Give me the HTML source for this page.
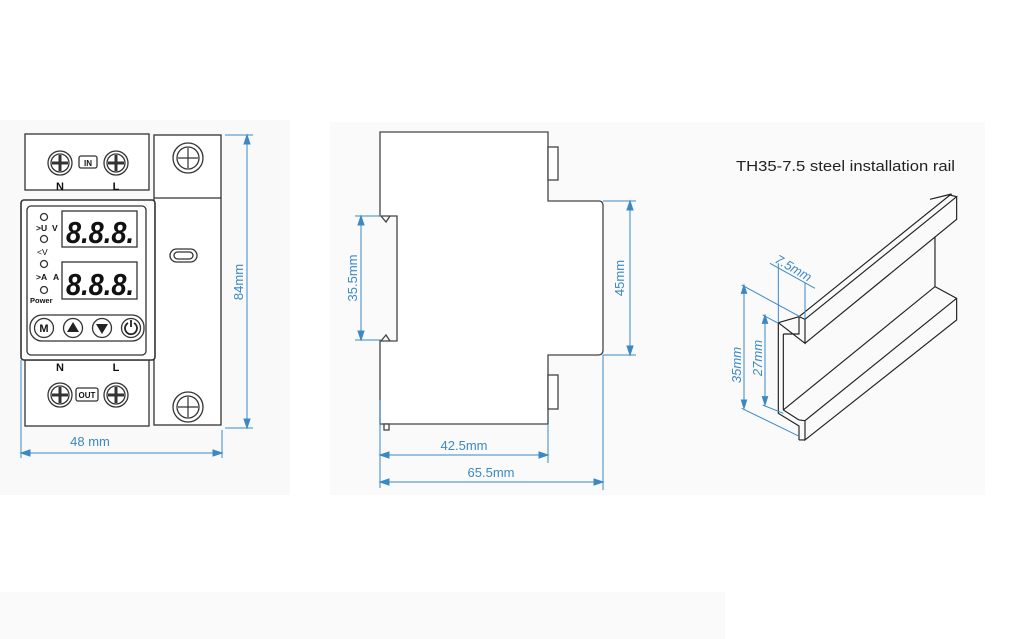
<!DOCTYPE html>
<html><head><meta charset="utf-8"><style>
html,body{margin:0;padding:0;background:#fff;}
svg{display:block;font-family:"Liberation Sans",sans-serif;}
</style></head><body>
<svg width="1035" height="639" viewBox="0 0 1035 639" xmlns="http://www.w3.org/2000/svg">
<rect x="0" y="120" width="290" height="375" fill="#f9f9f9"/>
<rect x="330" y="122" width="655" height="373" fill="#fafafa"/>
<rect x="0" y="592" width="725" height="47" fill="#fafafa"/>

<!-- FRONT VIEW -->
<g stroke="#333" stroke-width="1.3" fill="#fff">
<rect x="25" y="134" width="124" height="56"/>
<rect x="25" y="360" width="124" height="66"/>
<rect x="154" y="135" width="67" height="290"/>
<line x1="154" y1="198" x2="221" y2="198"/>
<rect x="21" y="200" width="134" height="160" rx="3" stroke-width="1.6"/>
<rect x="27" y="206" width="119" height="149" rx="4"/>
<rect x="62" y="211" width="75" height="36"/>
<rect x="62" y="262" width="75" height="37"/>
<rect x="30" y="315" width="114" height="26" rx="12"/>
</g>
<g stroke="#333" stroke-width="1.3" fill="#fff">
<circle cx="60" cy="163" r="12"/><circle cx="60" cy="163" r="9"/>
<circle cx="116" cy="163" r="12"/><circle cx="116" cy="163" r="9"/>
<circle cx="60" cy="395" r="12"/><circle cx="60" cy="395" r="9"/>
<circle cx="116" cy="395" r="12"/><circle cx="116" cy="395" r="9"/>
<circle cx="188" cy="158" r="15"/><circle cx="188" cy="158" r="11"/>
<circle cx="188" cy="407" r="15"/><circle cx="188" cy="407" r="11"/>
<rect x="79" y="156" width="18" height="12" rx="2"/>
<rect x="76" y="388" width="22" height="13" rx="2"/>
<rect x="170" y="249" width="27" height="13" rx="6.5"/>
<rect x="174" y="252" width="19" height="7" rx="3.5"/>
<circle cx="44" cy="217" r="3.5"/><circle cx="44" cy="239" r="3.5"/>
<circle cx="44" cy="264" r="3.5"/><circle cx="44" cy="290" r="3.5"/>
<circle cx="44" cy="328" r="9.5"/><circle cx="73" cy="328" r="9.5"/>
<circle cx="102" cy="328" r="9.5"/><circle cx="131" cy="328" r="9.5"/>
</g>
<g stroke="#333" stroke-width="3" fill="none">
<path d="M60 155v16M52 163h16M116 155v16M108 163h16M60 387v16M52 395h16M116 387v16M108 395h16"/>
</g>
<g stroke="#333" stroke-width="1.2" fill="none">
<path d="M188 148v20M178 158h20M188 397v20M178 407h20"/>
</g>
<path d="M73 322l6 10h-12z" fill="#222"/>
<path d="M102 334l6 -10h-12z" fill="#222"/>
<path d="M128 323a6 6 0 1 0 6 0M131 320v7" stroke="#222" stroke-width="1.8" fill="none"/>
<g fill="#111" font-weight="bold">
<text x="88" y="166" font-size="8" text-anchor="middle">IN</text>
<text x="87" y="398" font-size="8" text-anchor="middle">OUT</text>
<text x="60" y="190" font-size="11" text-anchor="middle">N</text>
<text x="116" y="190" font-size="11" text-anchor="middle">L</text>
<text x="60" y="371" font-size="11" text-anchor="middle">N</text>
<text x="116" y="371" font-size="11" text-anchor="middle">L</text>
<text x="44" y="332" font-size="11" text-anchor="middle">M</text>
<text x="36" y="231" font-size="8.5">&gt;U</text>
<text x="52" y="231" font-size="8.5">V</text>
<text x="37" y="255" font-size="8.5" font-weight="normal">&lt;V</text>
<text x="36" y="280" font-size="8.5">&gt;A</text>
<text x="53" y="280" font-size="8.5">A</text>
<text x="30" y="303" font-size="7.5">Power</text>
<text x="66" y="243" font-size="31" font-style="italic" textLength="68" lengthAdjust="spacingAndGlyphs">8.8.8.</text>
<text x="66" y="295" font-size="31" font-style="italic" textLength="68" lengthAdjust="spacingAndGlyphs">8.8.8.</text>
</g>

<!-- front dims -->
<g stroke="#3b89c4" stroke-width="1" fill="#3b89c4">
<line x1="225" y1="135" x2="253" y2="135"/><line x1="225" y1="428" x2="253" y2="428"/>
<line x1="247" y1="135" x2="247" y2="428"/>
<path d="M247 135l-3 9h6zM247 428l-3-9h6z"/>
<line x1="21" y1="360" x2="21" y2="458"/><line x1="222" y1="430" x2="222" y2="458"/>
<line x1="21" y1="453" x2="222" y2="453"/>
<path d="M21 453l9-3v6zM222 453l-9-3v6z"/>
</g>
<g fill="#3b89c4" font-size="13">
<text x="90" y="446" text-anchor="middle">48 mm</text>
<text transform="translate(243,282) rotate(-90)" text-anchor="middle">84mm</text>
</g>

<!-- SIDE VIEW -->
<g stroke="#444" stroke-width="1.3" fill="#fff">
<path d="M380 132H548V201H599Q603 201 603 206V350Q603 355 598 355H548V424H380V341H397V216H380Z"/>
<rect x="548" y="147" width="10" height="33"/>
<rect x="548" y="375" width="10" height="34"/>
<rect x="384" y="424" width="5" height="6"/>
<path d="M381 216l5 6 4-6M381 341l5-6 4 6" fill="none"/>
</g>
<g stroke="#3b89c4" stroke-width="1" fill="#3b89c4">
<line x1="355" y1="216" x2="381" y2="216"/><line x1="355" y1="340" x2="381" y2="340"/>
<line x1="361" y1="216" x2="361" y2="340"/>
<path d="M361 216l-3 9h6zM361 340l-3-9h6z"/>
<line x1="603" y1="201" x2="636" y2="201"/><line x1="603" y1="355" x2="636" y2="355"/>
<line x1="630" y1="201" x2="630" y2="355"/>
<path d="M630 201l-3 9h6zM630 355l-3-9h6z"/>
<line x1="380" y1="400" x2="380" y2="488"/><line x1="548" y1="424" x2="548" y2="463"/>
<line x1="603" y1="355" x2="603" y2="490"/>
<line x1="380" y1="455" x2="548" y2="455"/><path d="M380 455l9-3v6zM548 455l-9-3v6z"/>
<line x1="380" y1="482" x2="603" y2="482"/><path d="M380 482l9-3v6zM603 482l-9-3v6z"/>
</g>
<g fill="#3b89c4" font-size="13">
<text x="464" y="450" text-anchor="middle">42.5mm</text>
<text x="491" y="477" text-anchor="middle">65.5mm</text>
<text transform="translate(357,278) rotate(-90)" text-anchor="middle">35.5mm</text>
<text transform="translate(624,278) rotate(-90)" text-anchor="middle">45mm</text>
</g>

<!-- RAIL -->
<text x="736" y="171" font-size="15" fill="#222" textLength="219" lengthAdjust="spacingAndGlyphs">TH35-7.5 steel installation rail</text>
<g transform="translate(720,180) scale(0.3333)" stroke="#222" stroke-width="3.5" fill="none">
<path d="M175 428L237 410M175 428V700L237 738V780M190 462V690L237 720"/>
<path d="M190 462H237V410M175 428L255 490V418L237 410"/>
<path d="M237 410L690 45L710 50L255 418M630 58L695 42"/>
<path d="M255 490L710 118V50"/>
<path d="M645 170V320L190 690M645 320L710 355V420L255 780V722L710 355M237 720L255 722M237 780L255 780"/>
</g>
<g transform="translate(720,180) scale(0.3333)" stroke="#3b89c4" stroke-width="3" fill="#3b89c4">
<line x1="72" y1="315" x2="72" y2="685"/><path d="M72 315l-8 25h16zM72 685l-8-25h16z"/>
<line x1="135" y1="405" x2="135" y2="675"/><path d="M135 405l-8 25h16zM135 675l-8-25h16z"/>
<line x1="65" y1="315" x2="240" y2="410"/><line x1="65" y1="685" x2="240" y2="770"/>
<line x1="128" y1="405" x2="175" y2="430"/><line x1="128" y1="675" x2="190" y2="700"/>
<line x1="175" y1="250" x2="175" y2="428"/><line x1="255" y1="310" x2="255" y2="418"/>
<line x1="150" y1="250" x2="285" y2="325"/>
</g>
<g fill="#3b89c4" font-size="13" font-style="italic">
<text transform="translate(741,365) rotate(-90)" text-anchor="middle">35mm</text>
<text transform="translate(762,358) rotate(-90)" text-anchor="middle">27mm</text>
<text transform="translate(774,262) rotate(30)">7.5mm</text>
</g>
</svg>
</body></html>
